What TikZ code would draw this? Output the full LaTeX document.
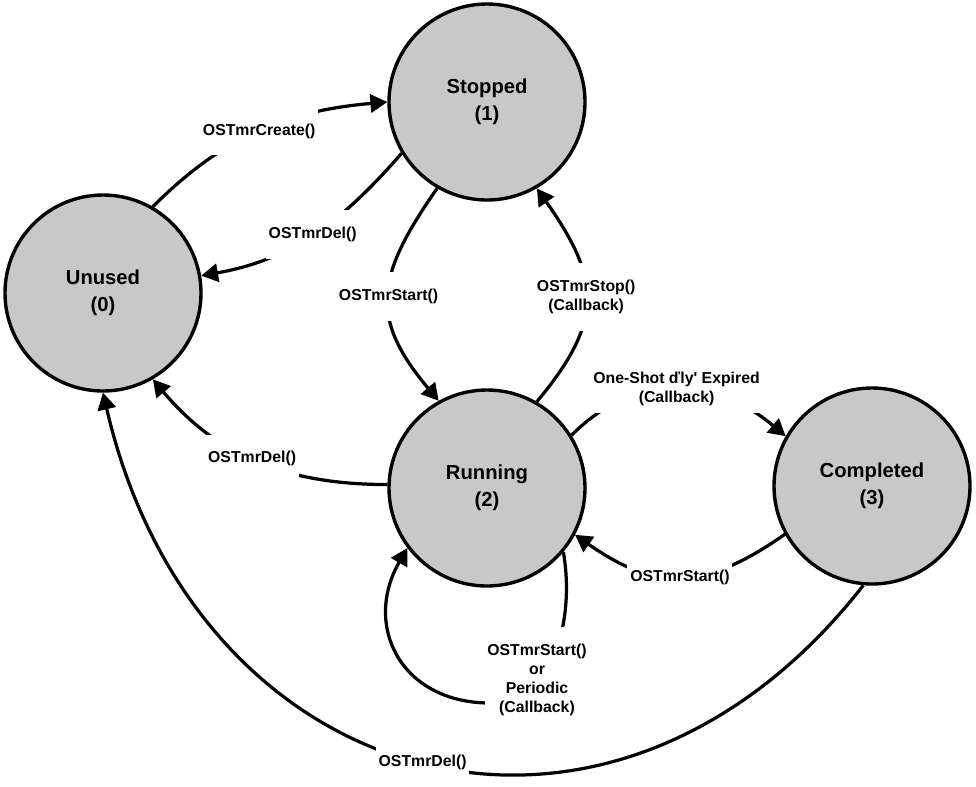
\documentclass[tikz,border=0pt]{standalone}
\usepackage{fontspec}
\setmainfont{Liberation Sans}
\usetikzlibrary{arrows.meta}
\definecolor{stategray}{RGB}{200,200,200}

\begin{document}
\begin{tikzpicture}[
    timerstate/.style={circle, draw=black, line width=2.4pt, fill=stategray, minimum size=4.9cm,
      align=center, font=\fontsize{14.4}{19}\selectfont\bfseries},
    trans/.style={line width=2.3pt, -{Triangle[length=12pt,width=13pt]}},
    edgelbl/.style={fill=white, inner xsep=2pt, inner ysep=12pt, align=center,
      font=\fontsize{11.25}{13.5}\selectfont\bfseries}]
  \useasboundingbox (0,0) rectangle (24.4,-19.65);
  % States
  \node[timerstate] (unused) at (2.575,-7.325) {Unused\\(0)};
  \node[timerstate] (stopped) at (12.175,-2.55) {Stopped\\(1)};
  \node[timerstate] (running) at (12.175,-12.2) {Running\\(2)};
  \node[timerstate] (completed) at (21.8,-12.15) {Completed\\(3)};
  \coordinate (loopbot) at (12.25,-17.575);
  % Transitions
  \draw[trans] (unused.60) to[out=45,in=185] node[edgelbl] (lcreate) {OSTmrCreate()} (stopped.180);
  \draw[trans] (stopped.211) to[out=229,in=10] node[edgelbl] (ldeltop) {OSTmrDel()} (unused.10);
  \draw[trans] (stopped.240) to[out=235,in=130,looseness=1.3] node[edgelbl] (lstart) {OSTmrStart()} (running.119);
  \draw[trans] (running.60) to[out=50,in=-55,looseness=1.3] node[edgelbl] (lstop) {OSTmrStop()\\(Callback)} (stopped.-60);
  \draw[trans] (running.32) to[out=45,in=140,looseness=1.1] node[edgelbl,inner ysep=5pt] (lexpired) {One-Shot ďly\textquotesingle{} Expired\\(Callback)} (completed.150);
  \draw[trans] (completed.209) to[out=215,in=-35,looseness=1.2] node[edgelbl] (lrestart) {OSTmrStart()} (running.-28);
  \draw[trans] (running.178) to[out=180,in=-50] node[edgelbl,pos=0.52] (ldelmid) {OSTmrDel()} (unused.-60);
  \draw[trans] (completed.-95) to[out=232,in=-77,looseness=1.35] node[edgelbl] (ldelbottom) {OSTmrDel()} (unused.south);
  % Self loop
  \draw[trans] (running.-40) to[out=-80,in=0] (loopbot) to[out=180,in=240,looseness=1.3] (running.217);
  \node[edgelbl] (lperiodic) at (13.425,-17.0) {OSTmrStart()\\or\\Periodic\\(Callback)};
\end{tikzpicture}
\end{document}
